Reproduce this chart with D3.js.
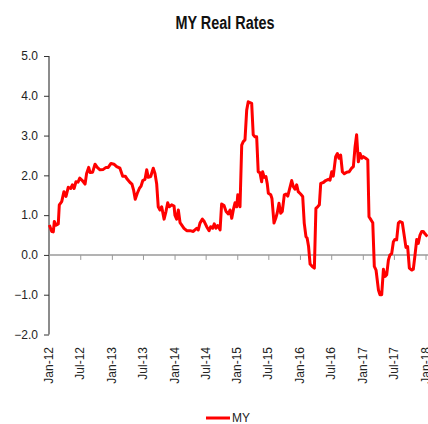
<!DOCTYPE html>
<meta charset="utf-8">
<style>
    body { margin: 0; background: #fff; }
    svg { display: block; }
    .tick text { font-family: "Liberation Sans", Arial, sans-serif; font-size: 12px; fill: #222; }
</style>
<svg width="428" height="424"></svg>
<script src="https://cdnjs.cloudflare.com/ajax/libs/d3/7.8.5/d3.min.js"></script>
<script>

    // weekly-ish readings of the MY real rate
    var dates = [
        "2012-01-03","2012-01-17","2012-01-26","2012-02-01","2012-02-11","2012-02-24","2012-03-01","2012-03-15",
        "2012-03-28","2012-04-09","2012-04-22","2012-05-06","2012-05-16","2012-05-26","2012-06-06","2012-06-18",
        "2012-06-28","2012-07-13","2012-07-29","2012-08-07","2012-08-19","2012-08-27","2012-09-11","2012-09-25",
        "2012-10-08","2012-10-24","2012-11-12","2012-11-28","2012-12-11","2012-12-27","2013-01-13","2013-01-29",
        "2013-02-17","2013-03-05","2013-03-20","2013-04-01","2013-04-17","2013-04-28","2013-05-08","2013-05-17",
        "2013-05-29","2013-06-10","2013-06-20","2013-06-30","2013-07-13","2013-07-23","2013-08-01","2013-08-15",
        "2013-08-30","2013-09-09","2013-09-19","2013-09-28","2013-10-08","2013-10-18","2013-11-01","2013-11-12",
        "2013-11-22","2013-12-01","2013-12-15","2013-12-29","2014-01-03","2014-01-13","2014-01-23","2014-02-02",
        "2014-02-12","2014-02-25","2014-03-13","2014-04-01","2014-04-20","2014-05-10","2014-05-19","2014-05-29",
        "2014-06-12","2014-06-23","2014-07-07","2014-07-21","2014-07-30","2014-08-11","2014-08-20","2014-08-30",
        "2014-09-09","2014-09-23","2014-10-02","2014-10-16","2014-10-28","2014-11-10","2014-11-20","2014-11-30",
        "2014-12-09","2014-12-19","2014-12-29","2015-01-04","2015-01-17","2015-01-27","2015-02-05","2015-02-15",
        "2015-02-25","2015-03-06","2015-03-16","2015-03-26","2015-04-04","2015-04-14","2015-04-24","2015-05-03",
        "2015-05-13","2015-05-23","2015-05-29","2015-06-07","2015-06-17","2015-06-25","2015-07-01","2015-07-15",
        "2015-07-22","2015-08-03","2015-08-13","2015-08-22","2015-09-01","2015-09-11","2015-09-20","2015-10-02",
        "2015-10-12","2015-10-22","2015-10-31","2015-11-14","2015-11-23","2015-12-03","2015-12-13","2015-12-22",
        "2016-01-05","2016-01-17","2016-01-26","2016-02-05","2016-02-12","2016-02-20","2016-02-29","2016-03-13",
        "2016-03-25","2016-04-03","2016-04-13","2016-04-23","2016-05-01","2016-05-16","2016-05-30","2016-06-14",
        "2016-06-24","2016-07-04","2016-07-13","2016-07-27","2016-08-06","2016-08-15","2016-08-25","2016-09-04",
        "2016-09-15","2016-09-29","2016-10-13","2016-10-28","2016-11-07","2016-11-17","2016-11-26","2016-12-06",
        "2016-12-16","2016-12-26","2017-01-04","2017-01-18","2017-01-30","2017-02-06","2017-02-18","2017-02-28",
        "2017-03-09","2017-03-19","2017-04-02","2017-04-11","2017-04-21","2017-05-01","2017-05-11","2017-05-20",
        "2017-05-30","2017-06-08","2017-06-18","2017-06-28","2017-07-07","2017-07-17","2017-07-27","2017-08-05",
        "2017-08-19","2017-08-31","2017-09-09","2017-09-19","2017-09-29","2017-10-13","2017-10-22","2017-11-01",
        "2017-11-11","2017-11-20","2017-11-30","2017-12-10","2017-12-19","2017-12-29","2018-01-12"
    ];
    var myRate = [
        0.75,0.59,0.58,0.84,0.75,0.78,1.26,1.34,
        1.59,1.47,1.70,1.67,1.76,1.67,1.84,1.83,
        1.93,1.87,1.78,2.05,2.20,2.07,2.08,2.28,
        2.20,2.14,2.15,2.20,2.20,2.30,2.28,2.22,
        2.18,1.98,1.98,1.90,1.82,1.78,1.62,1.40,
        1.55,1.67,1.73,1.87,1.90,2.14,1.95,1.97,
        2.18,2.05,1.78,1.21,1.13,1.21,0.90,1.09,
        1.31,1.21,1.26,1.23,1.00,0.90,1.13,0.81,
        0.75,0.67,0.61,0.61,0.59,0.67,0.63,0.80,
        0.90,0.84,0.71,0.61,0.71,0.67,0.78,0.67,
        0.74,0.63,1.28,1.24,1.09,1.03,1.13,0.92,
        1.13,1.31,1.21,1.51,1.21,2.76,2.85,2.89,
        3.64,3.85,3.83,3.81,3.02,2.97,2.97,2.09,
        2.07,1.84,2.09,1.95,1.97,1.78,1.55,1.51,
        1.42,0.80,0.92,1.06,1.30,1.05,1.09,1.51,
        1.53,1.48,1.63,1.87,1.72,1.65,1.76,1.59,
        1.53,1.47,0.80,0.46,0.42,0.22,-0.23,-0.29,
        -0.33,1.17,1.21,1.26,1.80,1.82,1.87,1.90,
        1.88,2.09,1.98,2.47,2.55,2.43,2.51,2.09,
        2.04,2.08,2.09,2.18,2.22,2.72,3.02,2.34,
        2.55,2.43,2.47,2.43,2.39,0.96,0.88,0.81,
        -0.29,-0.38,-0.88,-1.00,-1.00,-0.36,-0.54,-0.50,
        -0.13,0.00,0.03,0.33,0.39,0.38,0.80,0.84,
        0.81,0.46,0.19,0.21,-0.33,-0.38,-0.36,0.00,
        0.39,0.29,0.50,0.59,0.59,0.53,0.46
    ];
    var yTicks = [-2, -1, 0, 1, 2, 3, 4, 5];
    var seriesName = "MY";

    var parse = d3.timeParse("%Y-%m-%d");
    var data = dates.map(function(d, i) { return {date: parse(d), value: myRate[i]}; });

    var svg = d3.select("svg");

    var x = d3.scaleTime()
        .domain([new Date(2012, 0, 1), new Date(2018, 0, 1)])
        .range([49, 425.5]);

    var y = d3.scaleLinear()
        .domain([-2, 5])
        .range([334.5, 56]);

    // title
    svg.append("text")
        .attr("x", 225)
        .attr("y", 29)
        .attr("text-anchor", "middle")
        .attr("textLength", 99)
        .attr("lengthAdjust", "spacingAndGlyphs")
        .style("font-family", "'Liberation Sans', Arial, sans-serif")
        .style("font-size", "18px")
        .style("font-weight", "bold")
        .style("fill", "#111")
        .text("MY Real Rates");

    // y axis
    var yAxis = svg.append("g")
        .attr("transform", "translate(49,0)")
        .call(d3.axisLeft(y).tickValues(yTicks).tickSize(5).tickPadding(6).tickFormat(d3.format(".1f")));
    yAxis.select(".domain").attr("stroke", "#8c8c8c").attr("stroke-width", 2).attr("d", "M0," + y(-2) + "V" + y(5));
    yAxis.selectAll(".tick line").attr("stroke", "#333");

    // x axis along zero line, labels at bottom
    var xTicks = x.ticks(d3.timeMonth.every(6));
    var xAxis = svg.append("g")
        .attr("transform", "translate(0," + y(0) + ")")
        .call(d3.axisBottom(x).tickValues(xTicks).tickSize(5).tickFormat(""));
    xAxis.select(".domain").attr("stroke", "#9a9a9a").attr("stroke-width", 1.5).attr("d", "M49,0H428");
    xAxis.selectAll(".tick line").attr("stroke", "#9a9a9a");

    svg.append("g")
        .selectAll("text")
        .data(xTicks)
        .enter().append("text")
        .attr("transform", function(d) { return "translate(" + (x(d) + 4) + ",347) rotate(-90)"; })
        .attr("text-anchor", "end")
        .style("font-family", "'Liberation Sans', Arial, sans-serif")
        .style("font-size", "12px")
        .style("fill", "#222")
        .text(d3.timeFormat("%b-%y"));

    // series line
    var line = d3.line()
        .x(function(d) { return x(d.date); })
        .y(function(d) { return y(d.value); });

    svg.append("path")
        .datum(data)
        .attr("fill", "none")
        .attr("stroke", "#ff0000")
        .attr("stroke-width", 3)
        .attr("stroke-linejoin", "round")
        .attr("d", line);

    // legend
    svg.append("line")
        .attr("x1", 206).attr("x2", 230)
        .attr("y1", 418).attr("y2", 418)
        .attr("stroke", "#ff0000")
        .attr("stroke-width", 3);

    svg.append("text")
        .attr("x", 232)
        .attr("y", 422)
        .style("font-family", "'Liberation Sans', Arial, sans-serif")
        .style("font-size", "12px")
        .style("fill", "#222")
        .text(seriesName);

</script>
